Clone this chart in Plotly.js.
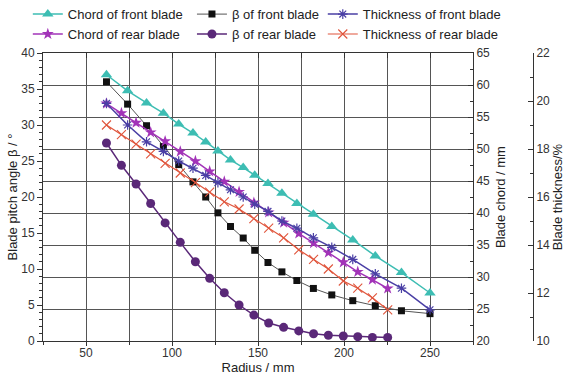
<!DOCTYPE html>
<html><head><meta charset="utf-8">
<script src="https://cdn.plot.ly/plotly-3.0.1.min.js"></script>
<style>html,body{margin:0;padding:0;background:#fff}#chart{width:571px;height:381px}</style>
</head><body><div id="chart"></div>
<script>
const radiusFront = [61.9, 74.2, 85.2, 95.0, 103.9, 112.2, 119.6, 126.7, 134.0, 141.4, 148.1, 155.8, 163.9, 172.6, 182.2, 192.9, 205.1, 218.2, 233.4, 250.0];
const radiusRear  = [61.9, 70.6, 79.1, 87.6, 96.0, 104.8, 113.6, 121.9, 130.4, 139.0, 147.6, 156.2, 164.9, 173.7, 182.3, 190.9, 199.6, 208.0, 216.5, 225.4];
const chordFront = [61.6, 59.1, 57.2, 55.6, 53.9, 52.5, 51.1, 49.7, 48.3, 47.1, 45.9, 44.6, 43.1, 41.5, 39.8, 37.9, 35.8, 33.3, 30.7, 27.5];
const betaFront  = [36.0, 32.9, 29.9, 27.0, 24.5, 22.1, 20.0, 17.8, 15.9, 14.3, 12.6, 10.9, 9.6, 8.4, 7.3, 6.4, 5.6, 4.9, 4.2, 3.8];
const thickFront = [19.9, 19.0, 18.3, 17.9, 17.5, 17.2, 16.9, 16.6, 16.3, 16.0, 15.7, 15.4, 15.0, 14.7, 14.3, 13.9, 13.4, 12.8, 12.2, 11.3];
const chordRear  = [57.1, 55.6, 54.1, 52.6, 51.2, 49.6, 48.1, 46.5, 44.9, 43.3, 41.6, 40.1, 38.5, 36.8, 35.3, 33.8, 32.3, 30.8, 29.6, 28.2];
const betaRear   = [27.5, 24.4, 21.8, 19.1, 16.4, 13.7, 11.0, 8.7, 6.7, 5.0, 3.6, 2.5, 1.9, 1.4, 1.0, 0.8, 0.7, 0.6, 0.5, 0.5];
const thickRear  = [19.0, 18.6, 18.2, 17.8, 17.4, 17.0, 16.6, 16.2, 15.8, 15.5, 15.1, 14.7, 14.3, 13.8, 13.4, 13.0, 12.5, 12.2, 11.8, 11.3];
const seriesNames = ['Chord of front blade','β of front blade','Thickness of front blade','Chord of rear blade','β of rear blade','Thickness of rear blade'];

const teal='#3dbdb3', black='#111', blue='#4a3fa5', magenta='#a233b8', purple='#5a2878', red='#e0553c';
const FONT='Liberation Sans, Arial, sans-serif';

const traces = [
  {x: radiusFront, y: chordFront, yaxis:'y2', name: seriesNames[0], legend:'legend', mode:'lines+markers',
   line:{color:teal,width:1.5}, marker:{symbol:'triangle-up',size:10,color:teal}},
  {x: radiusRear, y: chordRear, yaxis:'y2', name: seriesNames[3], legend:'legend', mode:'lines+markers',
   line:{color:magenta,width:1.5}, marker:{symbol:'star',size:9,color:magenta}},
  {x: radiusFront, y: betaFront, yaxis:'y', name: seriesNames[1], legend:'legend2', mode:'lines+markers',
   line:{color:'#555',width:1}, marker:{symbol:'square',size:7,color:black}},
  {x: radiusRear, y: betaRear, yaxis:'y', name: seriesNames[4], legend:'legend2', mode:'lines+markers',
   line:{color:purple,width:1.5}, marker:{symbol:'circle',size:9,color:purple}},
  {x: radiusFront, y: thickFront, yaxis:'y3', name: seriesNames[2], legend:'legend3', mode:'lines+markers',
   line:{color:blue,width:1.5}, marker:{symbol:'asterisk-open',size:8,color:blue,line:{color:blue,width:1.2}}},
  {x: radiusRear, y: thickRear, yaxis:'y3', name: seriesNames[5], legend:'legend3', mode:'lines+markers',
   line:{color:red,width:1.2}, marker:{symbol:'x-thin-open',size:9,color:red,line:{color:red,width:1.1}}},
  {x:[null], y:[null], xaxis:'x2', yaxis:'y', showlegend:false, hoverinfo:'skip', mode:'markers'}
];

const legendBase = {orientation:'v', bgcolor:'rgba(0,0,0,0)', font:{family:FONT,size:13,color:'#222'},
  xanchor:'left', yanchor:'top', yref:'paper', xref:'paper', tracegroupgap:0, itemwidth:30};

const layout = {
  width:571, height:381,
  margin:{l:43, r:38, t:53, b:40, autoexpand:false},
  paper_bgcolor:'#fff', plot_bgcolor:'#fff',
  font:{family:FONT, size:12, color:'#222'},
  showlegend:true,
  legend: Object.assign({}, legendBase, {x:-0.031, y:1.187}),
  legend2: Object.assign({}, legendBase, {x:0.304, y:1.187}),
  legend3: Object.assign({}, legendBase, {x:0.571, y:1.187}),
  xaxis:{domain:[0, 430/490], range:[25,275], tick0:0, dtick:50, ticks:'outside', ticklen:4, tickcolor:'#333',
    showline:true, linecolor:'#333', linewidth:1, mirror:true, showgrid:true, gridcolor:'#555', gridwidth:1,
    zeroline:false, tickfont:{size:12,color:'#333'}, ticklabelstandoff:-3,
    minor:{dtick:25, tick0:0, showgrid:true, gridcolor:'#555', gridwidth:1, ticks:'outside', ticklen:3, tickcolor:'#333'},
    title:{text:'Radius / mm', font:{size:13,color:'#222'}, standoff:3}},
  xaxis2:{overlaying:'x', side:'top', anchor:'y', range:[25,275], tick0:0, dtick:25, ticks:'inside', ticklen:5,
    tickcolor:'#333', showticklabels:false, showgrid:false, showline:false, zeroline:false},
  yaxis:{range:[0,40], dtick:5, ticks:'outside', ticklen:5, tickcolor:'#333', showline:true, linecolor:'#333',
    showgrid:false, zeroline:false, tickfont:{size:12,color:'#333'},
    minor:{dtick:1, ticks:'outside', ticklen:3, tickcolor:'#333'},
    title:{text:'Blade pitch angle β / °', font:{size:13,color:'#222'}, standoff:0}},
  yaxis2:{overlaying:'y', side:'right', anchor:'x', range:[20,65], dtick:5, ticks:'inside', ticklen:5, tickcolor:'#333',
    showline:true, linecolor:'#333', showgrid:true, gridcolor:'#555', gridwidth:1, zeroline:false,
    tickfont:{size:12,color:'#333'}, minor:{dtick:2.5, ticks:'inside', ticklen:3, tickcolor:'#333'},
    title:{text:'Blade chord / mm', font:{size:13,color:'#222'}, standoff:6}},
  yaxis3:{overlaying:'y', side:'right', anchor:'free', position:1, range:[10,22], dtick:2, ticks:'inside', ticklen:5,
    tickcolor:'#333', showline:true, linecolor:'#333', showgrid:false, zeroline:false,
    tickfont:{size:12,color:'#333'}, minor:{dtick:1, ticks:'inside', ticklen:3, tickcolor:'#333'},
    title:{text:'Blade thickness/%', font:{size:13,color:'#222'}, standoff:3}}
};

Plotly.newPlot('chart', traces, layout, {staticPlot:true, displayModeBar:false});
</script></body></html>
